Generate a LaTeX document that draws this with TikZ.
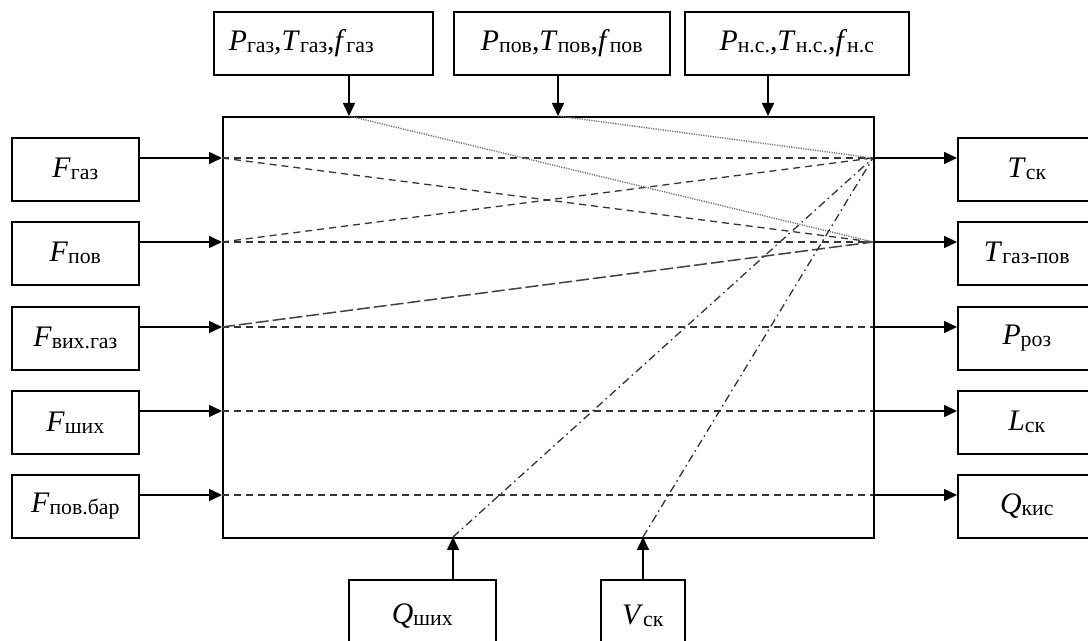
\documentclass[tikz,border=0pt]{standalone}
\usepackage{fontspec}
\setmainfont{Liberation Serif}
\usetikzlibrary{arrows.meta,positioning}
\newcommand{\sgn}[2]{\textit{#1}\raisebox{-1pt}{\fontsize{10.9}{10.9}\selectfont #2}}
\tikzset{
  blk/.style={draw, line width=0.8pt, inner sep=0pt, anchor=north west,
              minimum height=31.5pt, align=center, font=\fontsize{14.9}{17}\selectfont},
  arr/.style={-{Triangle[length=6.5pt,width=6pt]}, line width=0.8pt},
  lnk/.style={line width=0.65pt, black!80, dash pattern=on 3.5pt off 2.5pt},
  lnkdot/.style={line width=0.7pt, black!55, dash pattern=on 0.6pt off 0.6pt},
  lnklong/.style={line width=0.75pt, black!75, dash pattern=on 6.5pt off 2pt},
  lnkdd/.style={line width=0.65pt, black!80, dash pattern=on 4pt off 2pt on 0.8pt off 2pt}
}

\begin{document}
\begin{tikzpicture}[x=0.5pt, y=-0.5pt]
  \useasboundingbox (0,0) rectangle (1088,641);
  \clip (0,0) rectangle (1088,641);
  % object
  \node[blk, minimum width=325.5pt, minimum height=210.5pt] (obj) at (222,116) {};
  % top inputs
  \node[blk, text width=94.5pt, inner xsep=7.5pt, align=left] (pgaz) at (213,11)
    {\sgn{P}{газ},\sgn{T}{газ},\sgn{f}{газ}};
  \node[blk, minimum width=108pt] (ppov) at (453,11) {\sgn{P}{пов},\sgn{T}{пов},\sgn{f}{пов}};
  \node[blk, minimum width=112pt] (pns) at (684,11) {\sgn{P}{н.с.},\sgn{T}{н.с.},\sgn{f}{н.с}};
  % left inputs
  \node[blk, minimum width=63.5pt] (fgaz) at (11,137) {\sgn{F}{газ}};
  \node[blk, minimum width=63.5pt] (fpov) at (11,221) {\sgn{F}{пов}};
  \node[blk, minimum width=63.5pt] (fvyh) at (11,306) {\sgn{F}{вих.газ}};
  \node[blk, minimum width=63.5pt] (fshyh) at (11,390) {\sgn{F}{ших}};
  \node[blk, minimum width=63.5pt] (fbar) at (11,474) {\sgn{F}{пов.бар}};
  % outputs
  \node[blk, minimum width=69pt] (tsk) at (957,137) {\sgn{T}{ск}};
  \node[blk, minimum width=69pt] (tgp) at (957,221) {\sgn{T}{газ-пов}};
  \node[blk, minimum width=69pt] (proz) at (957,306) {\sgn{P}{роз}};
  \node[blk, minimum width=69pt] (lsk) at (957,390) {\sgn{L}{ск}};
  \node[blk, minimum width=69pt] (qkys) at (957,474) {\sgn{Q}{кис}};
  % bottom inputs
  \node[blk, minimum width=73.5pt, minimum height=36pt] (qshyh) at (348,579) {\sgn{Q}{ших}};
  \node[blk, minimum width=42pt, minimum height=36pt] (vsk) at (600,579) {\sgn{V}{ск}};

  % points on the object border
  \coordinate (i1) at (222,158); \coordinate (o1) at (873,158);
  \coordinate (i2) at (222,242); \coordinate (o2) at (873,242);
  \coordinate (i3) at (222,327); \coordinate (o3) at (873,327);
  \coordinate (i4) at (222,411); \coordinate (o4) at (873,411);
  \coordinate (i5) at (222,495); \coordinate (o5) at (873,495);
  \coordinate (t1) at (349,116); \coordinate (t2) at (558,116); \coordinate (t3) at (768,116);
  \coordinate (b1) at (453,537); \coordinate (b2) at (643,537);

  \draw[arr] (fgaz.east |- i1) -- (i1);
  \draw[arr] (fpov.east |- i2) -- (i2);
  \draw[arr] (fvyh.east |- i3) -- (i3);
  \draw[arr] (fshyh.east |- i4) -- (i4);
  \draw[arr] (fbar.east |- i5) -- (i5);
  \draw[arr] (o1) -- (tsk.west |- o1);
  \draw[arr] (o2) -- (tgp.west |- o2);
  \draw[arr] (o3) -- (proz.west |- o3);
  \draw[arr] (o4) -- (lsk.west |- o4);
  \draw[arr] (o5) -- (qkys.west |- o5);
  \draw[arr] (pgaz.south -| t1) -- (t1);
  \draw[arr] (ppov.south -| t2) -- (t2);
  \draw[arr] (pns.south -| t3) -- (t3);
  \draw[arr] (qshyh.north -| b1) -- (b1);
  \draw[arr] (vsk.north -| b2) -- (b2);

  % links inside the object
  \foreach \k in {1,...,5} \draw[lnk] (i\k) -- (o\k);
  \draw[lnk] (i1) -- (o2);
  \draw[lnk] (i2) -- (o1);
  \draw[lnklong] (i3) -- (o2);
  \draw[lnkdot] (t1) -- (o2);
  \draw[lnkdot] (t2) -- (o1);
  \draw[lnkdd] (b1) -- (o1);
  \draw[lnkdd] (b2) -- (o1);
\end{tikzpicture}
\end{document}
